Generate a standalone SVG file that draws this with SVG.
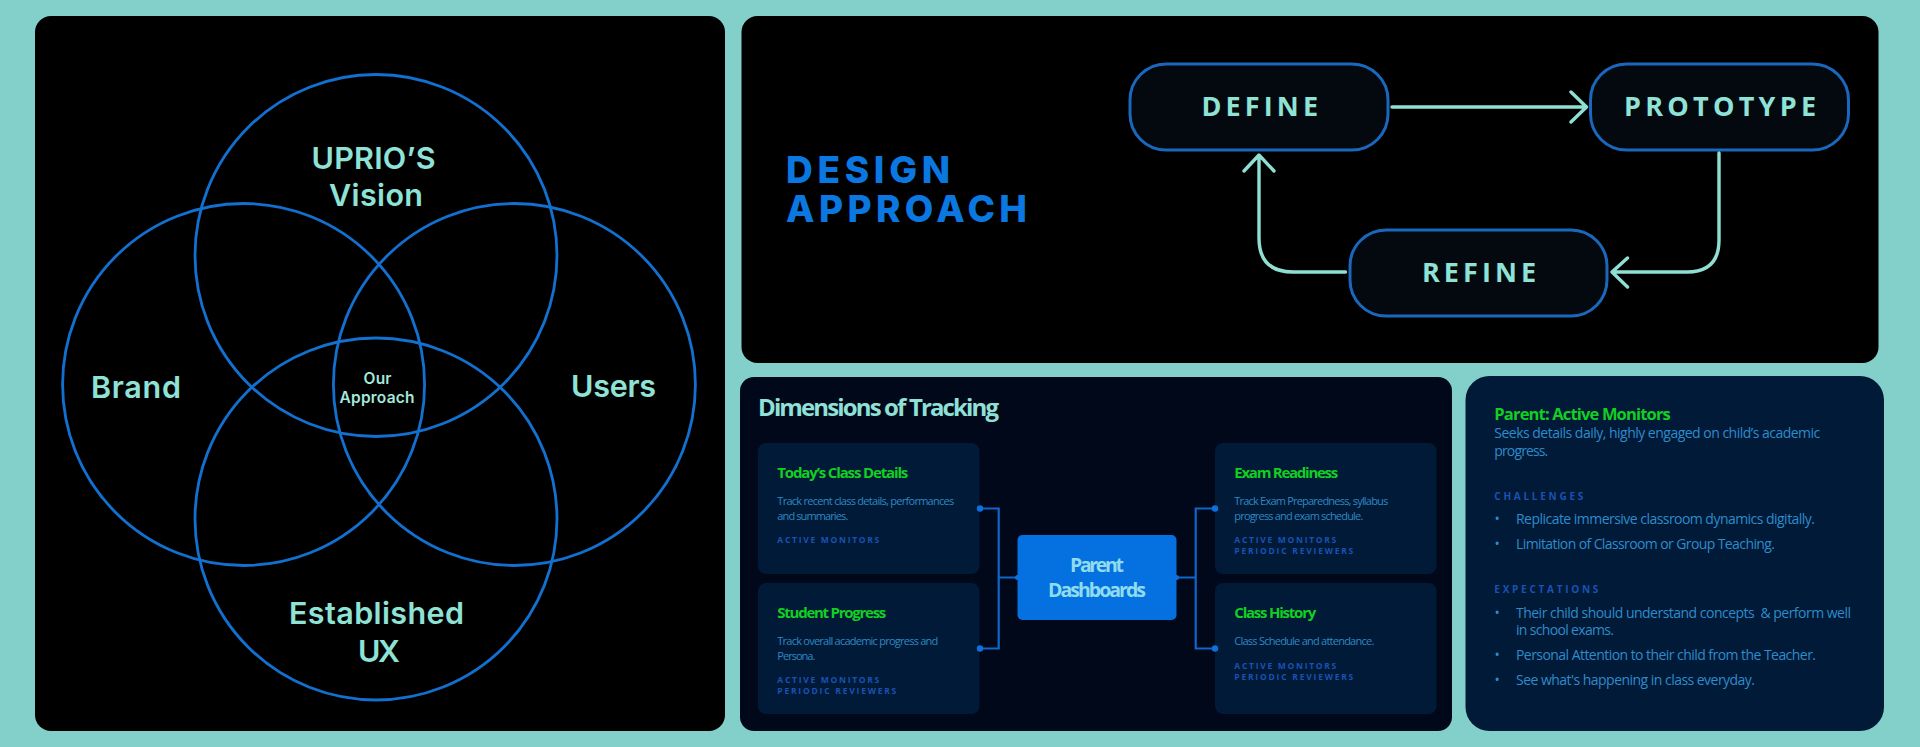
<svg xmlns="http://www.w3.org/2000/svg" width="1920" height="747" viewBox="0 0 1920 747">
<style>
text{font-family:"Open Sans","Liberation Sans",sans-serif}
.v{fill:none;stroke:#1270d0;stroke-width:2.8}
.vt{font-family:Inter,"Liberation Sans",sans-serif;font-weight:600;font-size:30.5px;fill:#8fe3d6;text-anchor:middle}
.vs{font-family:Inter,"Liberation Sans",sans-serif;font-weight:600;font-size:15.5px;fill:#a5e8dc;text-anchor:middle}
.h{font-family:Inter,"Liberation Sans",sans-serif;font-weight:800;font-size:37px;fill:#0a78e0}
.n{fill:#03090f;stroke:#1a68bd;stroke-width:3}
.nt{font-weight:700;font-size:27px;fill:#8fe3d6}
.a{fill:none;stroke:#8fdfd3;stroke-width:3.4;stroke-linecap:round;stroke-linejoin:round}
.c{fill:#001a38}
.ct{font-weight:700;font-size:15px;fill:#12cf22}
.cd{font-size:11px;fill:#2f88c2}
.cl{font-weight:700;font-size:8.5px;fill:#1a52b4}
.l{fill:none;stroke:#0f66cc;stroke-width:2.2}
.d{fill:#0f6fdc}
.p{font-size:14px;fill:#2f8ccb}
.pl{font-weight:700;font-size:10px;fill:#1a52b4}
</style>
<rect width="1920" height="747" fill="#83d0ca"/>
<g id="venn">
<rect x="35" y="16" width="690" height="715" rx="16" fill="#000"/>
<circle class="v" cx="376" cy="255.500" r="181"/>
<circle class="v" cx="243.600" cy="384.500" r="181"/>
<circle class="v" cx="514.400" cy="384.500" r="181"/>
<circle class="v" cx="376" cy="519" r="181"/>
<text class="vt" x="373.500" y="169" textLength="124">UPRIO’S</text>
<text class="vt" x="376" y="206" textLength="94">Vision</text>
<text class="vt" x="136" y="398" textLength="90">Brand</text>
<text class="vt" x="613.500" y="397" textLength="85">Users</text>
<text class="vt" x="376.500" y="624" textLength="175">Established</text>
<text class="vt" x="379" y="662" textLength="42">UX</text>
<text class="vs" x="377.500" y="384" textLength="28">Our</text>
<text class="vs" x="377" y="402.500" textLength="75">Approach</text>
</g>
<g id="design-panel">
<rect x="741.500" y="16" width="1137" height="347" rx="16" fill="#000"/>
<text class="h" x="786" y="182.500" textLength="164">DESIGN</text>
<text class="h" x="786" y="222" textLength="241">APPROACH</text>
</g>
<g id="node-define">
<rect class="n" x="1130" y="64" width="258" height="86" rx="36"/>
<text class="nt" x="1201.500" y="116" textLength="116.500">DEFINE</text>
</g>
<g id="node-prototype">
<rect class="n" x="1590.500" y="64" width="258" height="86" rx="36"/>
<text class="nt" x="1624" y="116" textLength="192">PROTOTYPE</text>
</g>
<g id="node-refine">
<rect class="n" x="1350" y="230" width="257" height="86" rx="36"/>
<text class="nt" x="1422" y="281.500" textLength="114">REFINE</text>
</g>
<g id="connectors-design">
<path class="a" d="M1392 107H1586M1571 92L1586.500 107L1571 122"/>
<path class="a" d="M1719 153V240Q1719 272 1687 272H1613M1627.500 258L1612 272L1627.500 287"/>
<path class="a" d="M1345.500 272H1293Q1259 272 1259 238V156M1244 171L1259 155L1274 171"/>
</g>
<g id="tracking-panel">
<rect x="740" y="377" width="712" height="354" rx="14" fill="#00081a"/>
<text x="758" y="415.500" font-size="24" font-weight="700" fill="#8fe0d6" textLength="241">Dimensions of Tracking</text>
</g>
<g id="card-today">
<rect class="c" x="758" y="443" width="221.500" height="131" rx="8"/>
<text class="ct" x="777.300" y="477.500" textLength="131">Today’s Class Details</text>
<text class="cd" x="777.300" y="505" textLength="177">Track recent class details, performances</text>
<text class="cd" x="777.300" y="519.500" textLength="71">and summaries.</text>
<text class="cl" x="777.300" y="543" textLength="102">ACTIVE MONITORS</text>
</g>
<g id="card-progress">
<rect class="c" x="758" y="583" width="221.500" height="131" rx="8"/>
<text class="ct" x="777.300" y="617.500" textLength="109">Student Progress</text>
<text class="cd" x="777.300" y="645.300" textLength="161">Track overall academic progress and</text>
<text class="cd" x="777.300" y="659.700" textLength="38">Persona.</text>
<text class="cl" x="777.300" y="683.300" textLength="102">ACTIVE MONITORS</text>
<text class="cl" x="777.300" y="694" textLength="119">PERIODIC REVIEWERS</text>
</g>
<g id="card-exam">
<rect class="c" x="1215" y="443" width="221.500" height="131" rx="8"/>
<text class="ct" x="1234.300" y="477.500" textLength="104">Exam Readiness</text>
<text class="cd" x="1234.300" y="505" textLength="154">Track Exam Preparedness, syllabus</text>
<text class="cd" x="1234.300" y="519.500" textLength="129">progress and exam schedule.</text>
<text class="cl" x="1234.300" y="543.300" textLength="102">ACTIVE MONITORS</text>
<text class="cl" x="1234.300" y="554" textLength="119">PERIODIC REVIEWERS</text>
</g>
<g id="card-history">
<rect class="c" x="1215" y="583" width="221.500" height="131" rx="8"/>
<text class="ct" x="1234.300" y="617.500" textLength="82">Class History</text>
<text class="cd" x="1234.300" y="645" textLength="140">Class Schedule and attendance.</text>
<text class="cl" x="1234.300" y="669" textLength="102">ACTIVE MONITORS</text>
<text class="cl" x="1234.300" y="679.700" textLength="119">PERIODIC REVIEWERS</text>
</g>
<g id="connectors-tracking">
<path class="l" d="M980 508.500H998.700V648.500H980M998.700 577.500H1017.500"/>
<path class="l" d="M1215 508.500H1195.700V648.500H1215M1195.700 577.500H1176.500"/>
<circle class="d" cx="980" cy="508.500" r="3.200"/><circle class="d" cx="980" cy="648.500" r="3.200"/>
<circle class="d" cx="1215" cy="508.500" r="3.200"/><circle class="d" cx="1215" cy="648.500" r="3.200"/>
</g>
<g id="node-parent">
<rect x="1017.500" y="535" width="159" height="85" rx="5" fill="#0570e0"/>
<circle class="d" cx="1017.500" cy="577.500" r="2.500"/><circle class="d" cx="1176.500" cy="577.500" r="2.500"/>
<text x="1097" y="572" font-size="19.500" font-weight="700" fill="#8fdcee" text-anchor="middle" textLength="54">Parent</text>
<text x="1097" y="597" font-size="19.500" font-weight="700" fill="#8fdcee" text-anchor="middle" textLength="98">Dashboards</text>
</g>
<g id="persona-panel">
<rect x="1465.500" y="376" width="418.500" height="355" rx="24" fill="#001a38"/>
<text x="1494.300" y="420" font-size="16.500" font-weight="700" fill="#12cf22" textLength="176.500">Parent: Active Monitors</text>
<text class="p" x="1494.300" y="438.300" textLength="326">Seeks details daily, highly engaged on child’s academic</text>
<text class="p" x="1494.300" y="455.700" textLength="54">progress.</text>
<text class="pl" x="1494.300" y="500" textLength="89">CHALLENGES</text>
<text class="p" x="1494.500" y="524">•</text>
<text class="p" x="1516" y="524" textLength="299">Replicate immersive classroom dynamics digitally.</text>
<text class="p" x="1494.500" y="549">•</text>
<text class="p" x="1516" y="549" textLength="259">Limitation of Classroom or Group Teaching.</text>
<text class="pl" x="1494.300" y="593.300" textLength="104">EXPECTATIONS</text>
<text class="p" x="1494.500" y="617.700">•</text>
<text class="p" x="1516" y="617.700" textLength="335" xml:space="preserve">Their child should understand concepts  &amp; perform well</text>
<text class="p" x="1516" y="635" textLength="98">in school exams.</text>
<text class="p" x="1494.500" y="660">•</text>
<text class="p" x="1516" y="660" textLength="300">Personal Attention to their child from the Teacher.</text>
<text class="p" x="1494.500" y="685">•</text>
<text class="p" x="1516" y="685" textLength="239">See what's happening in class everyday.</text>
</g>
</svg>
